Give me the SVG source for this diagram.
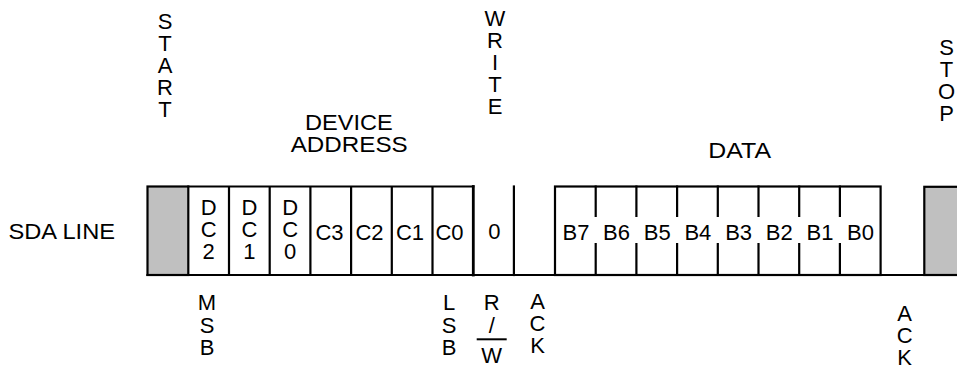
<svg xmlns="http://www.w3.org/2000/svg" width="957" height="370" viewBox="0 0 957 370">
<style>
text{font-family:"Liberation Sans",Arial,sans-serif;font-size:22px;fill:#000}
.c{text-anchor:middle}
.ln{stroke:#000;stroke-width:2.2;fill:none;stroke-linecap:square}
.grey{fill:#c0c0c0;stroke:#000;stroke-width:2.2}
</style>
<rect width="957" height="370" fill="#fff"/>

<g id="connectors">
  <path class="ln" d="M147.5 275 H957"/>
</g>

<g id="sda-label"><text x="8.5" y="239.3" textLength="106.5" lengthAdjust="spacingAndGlyphs">SDA LINE</text></g>

<g id="start-bit"><rect class="grey" x="147.5" y="186.5" width="40.8" height="88.5"/></g>

<g id="address-frame">
  <path class="ln" d="M188.3 186.5 H473.3 M229 186.5 V275 M269.7 186.5 V275 M310.4 186.5 V275 M351.1 186.5 V275 M391.8 186.5 V275 M432.5 186.5 V275"/>
  <path class="ln" d="M473.3 186.5 V275" style="stroke-width:2.8"/>
</g>
<g id="dc2"><text class="c" x="208.6" y="214.5">D<tspan x="208.6" dy="22">C</tspan><tspan x="208.6" dy="22">2</tspan></text></g>
<g id="dc1"><text class="c" x="249.4" y="214.5">D<tspan x="249.4" dy="22">C</tspan><tspan x="249.4" dy="22">1</tspan></text></g>
<g id="dc0"><text class="c" x="290.1" y="214.5">D<tspan x="290.1" dy="22">C</tspan><tspan x="290.1" dy="22">0</tspan></text></g>
<g id="c3"><text class="c" x="329.5" y="240">C3</text></g>
<g id="c2"><text class="c" x="369.5" y="240">C2</text></g>
<g id="c1"><text class="c" x="410" y="240">C1</text></g>
<g id="c0"><text class="c" x="449.5" y="240">C0</text></g>

<g id="rw-bit">
  <path class="ln" d="M513.9 186.5 V275"/>
  <text class="c" x="494.3" y="239">0</text>
</g>

<g id="data-byte">
  <rect class="ln" x="555" y="186.5" width="325.6" height="88.5"/>
  <path class="ln" d="M595.7 186.5 V216 M636.4 186.5 V216 M677.1 186.5 V216 M717.8 186.5 V216 M758.5 186.5 V216 M799.2 186.5 V216 M839.9 186.5 V216
                      M595.7 244 V275 M636.4 244 V275 M677.1 244 V275 M717.8 244 V275 M758.5 244 V275 M799.2 244 V275 M839.9 244 V275"/>
  <text class="c" x="576" y="240">B7</text>
  <text class="c" x="616.5" y="240">B6</text>
  <text class="c" x="657.2" y="240">B5</text>
  <text class="c" x="697.9" y="240">B4</text>
  <text class="c" x="738.6" y="240">B3</text>
  <text class="c" x="779.3" y="240">B2</text>
  <text class="c" x="820" y="240">B1</text>
  <text class="c" x="860.5" y="240">B0</text>
</g>

<g id="stop-bit"><rect class="grey" x="924.3" y="186.8" width="40" height="88.2"/></g>

<g id="start-label">
  <text class="c" x="165" y="28.5">S<tspan x="165" dy="22.2">T</tspan><tspan x="165" dy="22.2">A</tspan><tspan x="165" dy="22.2">R</tspan><tspan x="165" dy="22.2">T</tspan></text>
</g>
<g id="write-label">
  <text class="c" x="495" y="25.5">W<tspan x="495" dy="22.2">R</tspan><tspan x="495" dy="22.2">I</tspan><tspan x="495" dy="22.2">T</tspan><tspan x="495" dy="22.2">E</tspan></text>
</g>
<g id="stop-label">
  <text class="c" x="946.5" y="55">S<tspan x="946.5" dy="22">T</tspan><tspan x="946.5" dy="22">O</tspan><tspan x="946.5" dy="22">P</tspan></text>
</g>
<g id="device-address-label">
  <text><tspan x="305" y="130" textLength="87.7" lengthAdjust="spacingAndGlyphs">DEVICE</tspan><tspan x="290.7" y="151.7" textLength="117" lengthAdjust="spacingAndGlyphs">ADDRESS</tspan></text>
</g>
<g id="data-label"><text x="708.3" y="157.7" textLength="62.7" lengthAdjust="spacingAndGlyphs">DATA</text></g>

<g id="msb-label">
  <text class="c" x="207" y="310">M<tspan x="207" dy="22.5">S</tspan><tspan x="207" dy="22.5">B</tspan></text>
</g>
<g id="lsb-label">
  <text class="c" x="449" y="310">L<tspan x="449" dy="22.5">S</tspan><tspan x="449" dy="22.5">B</tspan></text>
</g>
<g id="rw-label">
  <text class="c" x="491.7" y="310">R<tspan x="491.7" dy="22.5">/</tspan><tspan x="491.7" dy="30.5">W</tspan></text>
  <path d="M476.7 339.3 H506.7" stroke="#000" stroke-width="2"/>
</g>
<g id="ack1-label">
  <text class="c" x="537.5" y="308.5">A<tspan x="537.5" dy="22.3">C</tspan><tspan x="537.5" dy="22.3">K</tspan></text>
</g>
<g id="ack2-label">
  <text class="c" x="904.7" y="321">A<tspan x="904.7" dy="22.2">C</tspan><tspan x="904.7" dy="22.2">K</tspan></text>
</g>
</svg>
